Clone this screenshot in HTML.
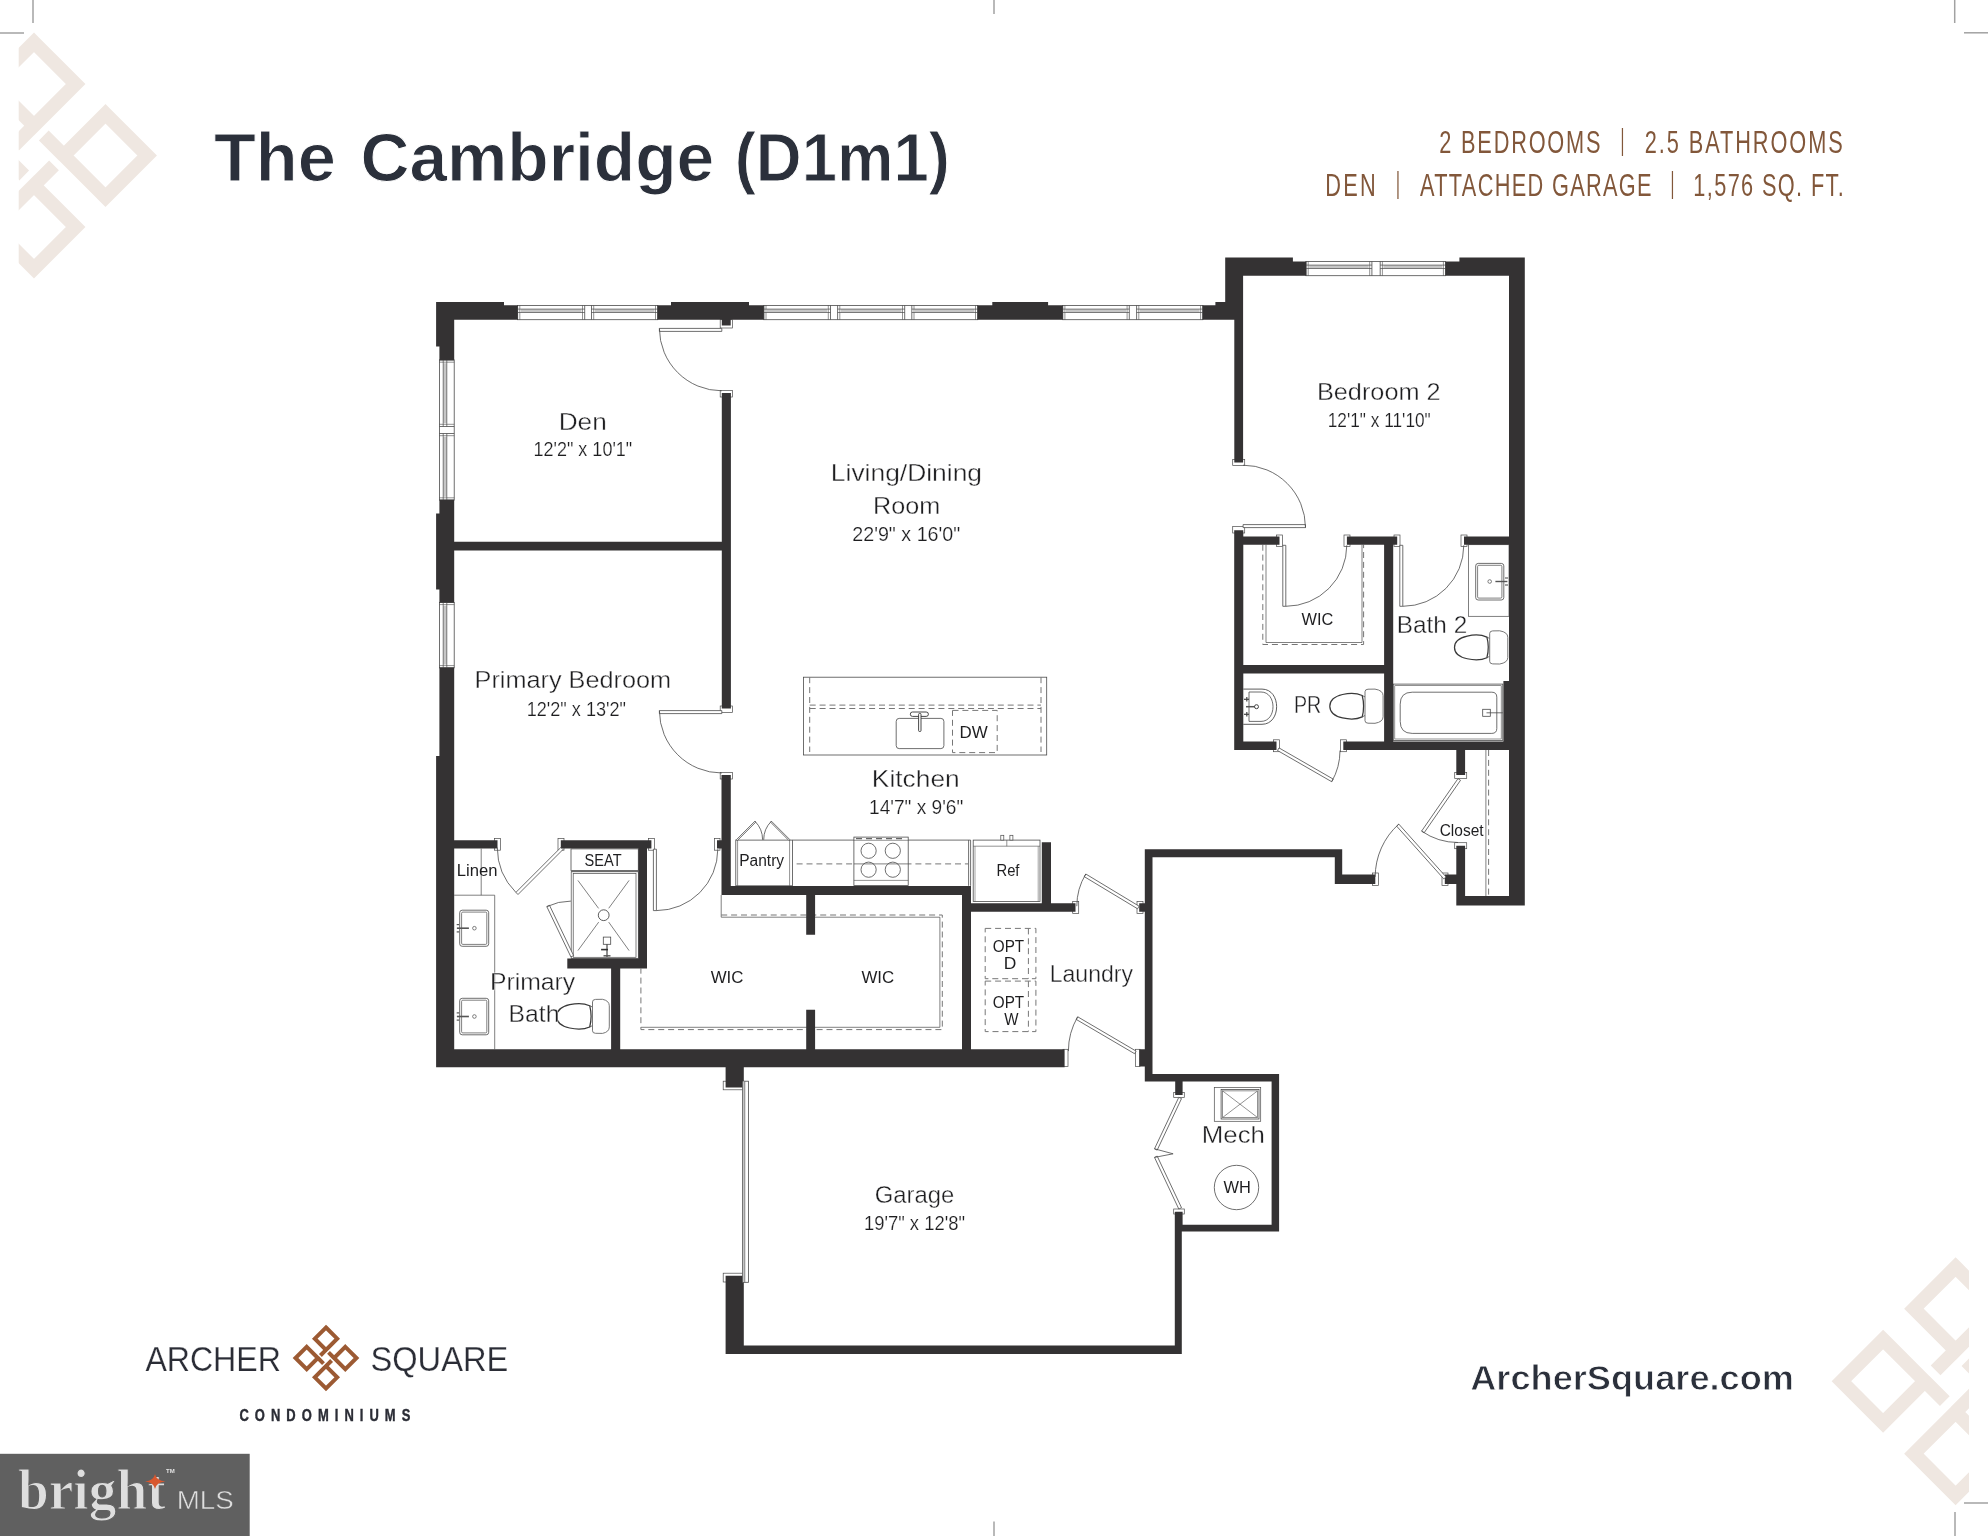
<!DOCTYPE html>
<html lang="en"><head><meta charset="utf-8"><title>The Cambridge (D1m1) - Archer Square Condominiums</title>
<style>
html,body{margin:0;padding:0;background:#fff;}
body{width:1988px;height:1536px;overflow:hidden;}
svg{display:block;will-change:transform;}
svg text{font-family:"Liberation Sans",sans-serif;}
</style></head><body>
<svg width="1988" height="1536" viewBox="0 0 1988 1536">
<rect width="1988" height="1536" fill="#ffffff"/>
<defs><clipPath id="cl"><rect x="18.7" y="0" width="400" height="400"/></clipPath><clipPath id="cr"><rect x="1600" y="1200" width="369" height="336"/></clipPath></defs>
<g clip-path="url(#cl)"><path d="M34.00,42.30 L75.70,84.00 L34.00,125.70 L-7.70,84.00 Z M34.00,125.70 l-20.00,20.00 M-37.50,113.80 L4.20,155.50 L-37.50,197.20 L-79.20,155.50 Z M4.20,155.50 l20.00,20.00 M34.00,185.30 L75.70,227.00 L34.00,268.70 L-7.70,227.00 Z M34.00,185.30 l20.00,-20.00 M105.50,113.80 L147.20,155.50 L105.50,197.20 L63.80,155.50 Z M63.80,155.50 l-20.00,-20.00 " fill="none" stroke="#efe7e1" stroke-width="13.8" stroke-linejoin="miter" stroke-linecap="butt"/></g>
<g clip-path="url(#cr)"><path d="M1955.60,1267.00 L1997.30,1308.70 L1955.60,1350.40 L1913.90,1308.70 Z M1955.60,1350.40 l-20.00,20.00 M1883.10,1339.50 L1924.80,1381.20 L1883.10,1422.90 L1841.40,1381.20 Z M1924.80,1381.20 l20.00,20.00 M1955.60,1412.00 L1997.30,1453.70 L1955.60,1495.40 L1913.90,1453.70 Z M1955.60,1412.00 l20.00,-20.00 M2028.10,1339.50 L2069.80,1381.20 L2028.10,1422.90 L1986.40,1381.20 Z M1986.40,1381.20 l-20.00,-20.00 " fill="none" stroke="#efe7e1" stroke-width="13.8" stroke-linejoin="miter" stroke-linecap="butt"/></g>
<line x1="33.0" y1="0.0" x2="33.0" y2="23.0" stroke="#a2a2a2" stroke-width="1.5"/>
<line x1="0.0" y1="33.0" x2="24.0" y2="33.0" stroke="#a2a2a2" stroke-width="1.5"/>
<line x1="1954.7" y1="0.0" x2="1954.7" y2="23.0" stroke="#a2a2a2" stroke-width="1.5"/>
<line x1="1964.0" y1="32.8" x2="1988.0" y2="32.8" stroke="#a2a2a2" stroke-width="1.5"/>
<line x1="1955.0" y1="1512.0" x2="1955.0" y2="1536.0" stroke="#a2a2a2" stroke-width="1.5"/>
<line x1="1964.0" y1="1503.0" x2="1988.0" y2="1503.0" stroke="#a2a2a2" stroke-width="1.5"/>
<line x1="994.0" y1="0.0" x2="994.0" y2="14.0" stroke="#a2a2a2" stroke-width="1.5"/>
<line x1="994.0" y1="1521.5" x2="994.0" y2="1536.0" stroke="#a2a2a2" stroke-width="1.5"/>
<text x="214.00" y="181.0" font-size="68" textLength="121.83" lengthAdjust="spacingAndGlyphs" fill="#2b303b" style="font-family:&quot;Liberation Sans&quot;,sans-serif;font-weight:bold;" stroke="#fff" stroke-width="1.0" >The</text>
<text x="360.51" y="181.0" font-size="68" textLength="353.80" lengthAdjust="spacingAndGlyphs" fill="#2b303b" style="font-family:&quot;Liberation Sans&quot;,sans-serif;font-weight:bold;" stroke="#fff" stroke-width="1.0" >Cambridge</text>
<text x="734.70" y="181.0" font-size="68" textLength="215.27" lengthAdjust="spacingAndGlyphs" fill="#2b303b" style="font-family:&quot;Liberation Sans&quot;,sans-serif;font-weight:bold;" stroke="#fff" stroke-width="1.0" >(D1m1)</text>
<text transform="translate(1439.32,152.7) scale(0.68,1)" font-size="32" letter-spacing="2.631" fill="#82573a" style="font-family:&quot;Liberation Sans&quot;,sans-serif;" >2 BEDROOMS</text>
<text transform="translate(1644.72,152.7) scale(0.68,1)" font-size="32" letter-spacing="2.840" fill="#82573a" style="font-family:&quot;Liberation Sans&quot;,sans-serif;" >2.5 BATHROOMS</text>
<text transform="translate(1325.34,196.3) scale(0.68,1)" font-size="32" letter-spacing="3.273" fill="#82573a" style="font-family:&quot;Liberation Sans&quot;,sans-serif;" >DEN</text>
<text transform="translate(1420.00,196.3) scale(0.68,1)" font-size="32" letter-spacing="1.935" fill="#82573a" style="font-family:&quot;Liberation Sans&quot;,sans-serif;" >ATTACHED GARAGE</text>
<text transform="translate(1693.34,196.3) scale(0.68,1)" font-size="32" letter-spacing="1.995" fill="#82573a" style="font-family:&quot;Liberation Sans&quot;,sans-serif;" >1,576 SQ. FT.</text>
<text x="1620.60" y="149.7" font-size="30" textLength="3.90" lengthAdjust="spacingAndGlyphs" fill="#82573a" style="font-family:&quot;Liberation Sans&quot;,sans-serif;" >|</text>
<text x="1395.90" y="193.3" font-size="30" textLength="3.90" lengthAdjust="spacingAndGlyphs" fill="#82573a" style="font-family:&quot;Liberation Sans&quot;,sans-serif;" >|</text>
<text x="1670.50" y="193.3" font-size="30" textLength="3.90" lengthAdjust="spacingAndGlyphs" fill="#82573a" style="font-family:&quot;Liberation Sans&quot;,sans-serif;" >|</text>
<text x="145.40" y="1371.3" font-size="35.3" textLength="135.45" lengthAdjust="spacingAndGlyphs" fill="#2b2d36" style="font-family:&quot;Liberation Sans&quot;,sans-serif;" stroke="#fff" stroke-width="0.25" >ARCHER</text>
<text x="370.48" y="1371.3" font-size="35.3" textLength="137.73" lengthAdjust="spacingAndGlyphs" fill="#2b2d36" style="font-family:&quot;Liberation Sans&quot;,sans-serif;" stroke="#fff" stroke-width="0.25" >SQUARE</text>
<text transform="translate(239.40,1421.0) scale(0.8,1)" font-size="16.2" letter-spacing="7.571" fill="#2b2d36" style="font-family:&quot;Liberation Sans&quot;,sans-serif;font-weight:bold;" stroke="#2b2d36" stroke-width="0.4">CONDOMINIUMS</text>
<path d="M326.00,1327.50 L337.20,1338.70 L326.00,1349.90 L314.80,1338.70 Z M326.00,1349.90 l-5.60,5.60 M306.70,1346.80 L317.90,1358.00 L306.70,1369.20 L295.50,1358.00 Z M317.90,1358.00 l5.60,5.60 M326.00,1366.10 L337.20,1377.30 L326.00,1388.50 L314.80,1377.30 Z M326.00,1366.10 l5.60,-5.60 M345.30,1346.80 L356.50,1358.00 L345.30,1369.20 L334.10,1358.00 Z M334.10,1358.00 l-5.60,-5.60 " fill="none" stroke="#9c5a33" stroke-width="4" stroke-linejoin="miter" stroke-linecap="butt"/>
<text x="1470.20" y="1389.7" font-size="35" textLength="323.79" lengthAdjust="spacingAndGlyphs" fill="#2b303b" style="font-family:&quot;Liberation Sans&quot;,sans-serif;font-weight:bold;" stroke="#fff" stroke-width="0.8" >ArcherSquare.com</text>
<rect x="0.0" y="1453.8" width="249.7" height="82.2" fill="#606060"/>
<text x="18.00" y="1508.5" font-size="56" textLength="147.65" lengthAdjust="spacingAndGlyphs" fill="#dedede" style="font-family:&quot;Liberation Serif&quot;,serif;font-weight:bold;" stroke="#606060" stroke-width="1.1" >bright</text>
<text x="176.71" y="1508.5" font-size="26.5" textLength="57.00" lengthAdjust="spacingAndGlyphs" fill="#dedede" style="font-family:&quot;Liberation Sans&quot;,sans-serif;" stroke="#606060" stroke-width="0.5" >MLS</text>
<text x="166.00" y="1473.0" font-size="5" textLength="8.70" lengthAdjust="spacingAndGlyphs" fill="#e2e2e2" style="font-family:&quot;Liberation Sans&quot;,sans-serif;font-weight:bold;" >TM</text>
<path d="M155,1474 Q156.2,1480.6 165.5,1481.6 Q156.2,1482.6 155,1489 Q153.8,1482.6 145,1481.6 Q153.8,1480.6 155,1474 Z" fill="#d8572f"/>
<rect x="517.6" y="305.4" width="140.1" height="14.3" fill="#fff" stroke="#4a4a4a" stroke-width="0.8"/>
<line x1="517.6" y1="305.4" x2="517.6" y2="319.7" stroke="#4a4a4a" stroke-width="0.8"/>
<line x1="584.7" y1="305.4" x2="584.7" y2="319.7" stroke="#4a4a4a" stroke-width="0.8"/>
<line x1="519.8" y1="305.4" x2="519.8" y2="319.7" stroke="#4a4a4a" stroke-width="0.6"/>
<line x1="582.5" y1="305.4" x2="582.5" y2="319.7" stroke="#4a4a4a" stroke-width="0.6"/>
<rect x="520.8" y="309.1" width="60.7" height="3.4" fill="#c6c6c6"/>
<line x1="517.6" y1="309.1" x2="584.7" y2="309.1" stroke="#4a4a4a" stroke-width="0.7"/>
<line x1="517.6" y1="312.5" x2="584.7" y2="312.5" stroke="#4a4a4a" stroke-width="0.7"/>
<line x1="591.5" y1="305.4" x2="591.5" y2="319.7" stroke="#4a4a4a" stroke-width="0.8"/>
<line x1="657.7" y1="305.4" x2="657.7" y2="319.7" stroke="#4a4a4a" stroke-width="0.8"/>
<line x1="593.7" y1="305.4" x2="593.7" y2="319.7" stroke="#4a4a4a" stroke-width="0.6"/>
<line x1="655.5" y1="305.4" x2="655.5" y2="319.7" stroke="#4a4a4a" stroke-width="0.6"/>
<rect x="594.7" y="309.1" width="59.8" height="3.4" fill="#c6c6c6"/>
<line x1="591.5" y1="309.1" x2="657.7" y2="309.1" stroke="#4a4a4a" stroke-width="0.7"/>
<line x1="591.5" y1="312.5" x2="657.7" y2="312.5" stroke="#4a4a4a" stroke-width="0.7"/>
<rect x="763.8" y="305.4" width="213.9" height="14.3" fill="#fff" stroke="#4a4a4a" stroke-width="0.8"/>
<line x1="763.8" y1="305.4" x2="763.8" y2="319.7" stroke="#4a4a4a" stroke-width="0.8"/>
<line x1="830.5" y1="305.4" x2="830.5" y2="319.7" stroke="#4a4a4a" stroke-width="0.8"/>
<line x1="766.0" y1="305.4" x2="766.0" y2="319.7" stroke="#4a4a4a" stroke-width="0.6"/>
<line x1="828.3" y1="305.4" x2="828.3" y2="319.7" stroke="#4a4a4a" stroke-width="0.6"/>
<rect x="767.0" y="309.1" width="60.3" height="3.4" fill="#c6c6c6"/>
<line x1="763.8" y1="309.1" x2="830.5" y2="309.1" stroke="#4a4a4a" stroke-width="0.7"/>
<line x1="763.8" y1="312.5" x2="830.5" y2="312.5" stroke="#4a4a4a" stroke-width="0.7"/>
<line x1="837.6" y1="305.4" x2="837.6" y2="319.7" stroke="#4a4a4a" stroke-width="0.8"/>
<line x1="904.7" y1="305.4" x2="904.7" y2="319.7" stroke="#4a4a4a" stroke-width="0.8"/>
<line x1="839.8" y1="305.4" x2="839.8" y2="319.7" stroke="#4a4a4a" stroke-width="0.6"/>
<line x1="902.5" y1="305.4" x2="902.5" y2="319.7" stroke="#4a4a4a" stroke-width="0.6"/>
<rect x="840.8" y="309.1" width="60.7" height="3.4" fill="#c6c6c6"/>
<line x1="837.6" y1="309.1" x2="904.7" y2="309.1" stroke="#4a4a4a" stroke-width="0.7"/>
<line x1="837.6" y1="312.5" x2="904.7" y2="312.5" stroke="#4a4a4a" stroke-width="0.7"/>
<line x1="911.8" y1="305.4" x2="911.8" y2="319.7" stroke="#4a4a4a" stroke-width="0.8"/>
<line x1="977.7" y1="305.4" x2="977.7" y2="319.7" stroke="#4a4a4a" stroke-width="0.8"/>
<line x1="914.0" y1="305.4" x2="914.0" y2="319.7" stroke="#4a4a4a" stroke-width="0.6"/>
<line x1="975.5" y1="305.4" x2="975.5" y2="319.7" stroke="#4a4a4a" stroke-width="0.6"/>
<rect x="915.0" y="309.1" width="59.5" height="3.4" fill="#c6c6c6"/>
<line x1="911.8" y1="309.1" x2="977.7" y2="309.1" stroke="#4a4a4a" stroke-width="0.7"/>
<line x1="911.8" y1="312.5" x2="977.7" y2="312.5" stroke="#4a4a4a" stroke-width="0.7"/>
<rect x="1062.7" y="305.4" width="140.1" height="14.3" fill="#fff" stroke="#4a4a4a" stroke-width="0.8"/>
<line x1="1062.7" y1="305.4" x2="1062.7" y2="319.7" stroke="#4a4a4a" stroke-width="0.8"/>
<line x1="1129.3" y1="305.4" x2="1129.3" y2="319.7" stroke="#4a4a4a" stroke-width="0.8"/>
<line x1="1064.9" y1="305.4" x2="1064.9" y2="319.7" stroke="#4a4a4a" stroke-width="0.6"/>
<line x1="1127.1" y1="305.4" x2="1127.1" y2="319.7" stroke="#4a4a4a" stroke-width="0.6"/>
<rect x="1065.9" y="309.1" width="60.2" height="3.4" fill="#c6c6c6"/>
<line x1="1062.7" y1="309.1" x2="1129.3" y2="309.1" stroke="#4a4a4a" stroke-width="0.7"/>
<line x1="1062.7" y1="312.5" x2="1129.3" y2="312.5" stroke="#4a4a4a" stroke-width="0.7"/>
<line x1="1136.6" y1="305.4" x2="1136.6" y2="319.7" stroke="#4a4a4a" stroke-width="0.8"/>
<line x1="1202.8" y1="305.4" x2="1202.8" y2="319.7" stroke="#4a4a4a" stroke-width="0.8"/>
<line x1="1138.8" y1="305.4" x2="1138.8" y2="319.7" stroke="#4a4a4a" stroke-width="0.6"/>
<line x1="1200.6" y1="305.4" x2="1200.6" y2="319.7" stroke="#4a4a4a" stroke-width="0.6"/>
<rect x="1139.8" y="309.1" width="59.8" height="3.4" fill="#c6c6c6"/>
<line x1="1136.6" y1="309.1" x2="1202.8" y2="309.1" stroke="#4a4a4a" stroke-width="0.7"/>
<line x1="1136.6" y1="312.5" x2="1202.8" y2="312.5" stroke="#4a4a4a" stroke-width="0.7"/>
<rect x="1306.0" y="261.4" width="139.6" height="14.3" fill="#fff" stroke="#4a4a4a" stroke-width="0.8"/>
<line x1="1306.0" y1="261.4" x2="1306.0" y2="275.7" stroke="#4a4a4a" stroke-width="0.8"/>
<line x1="1371.9" y1="261.4" x2="1371.9" y2="275.7" stroke="#4a4a4a" stroke-width="0.8"/>
<line x1="1308.2" y1="261.4" x2="1308.2" y2="275.7" stroke="#4a4a4a" stroke-width="0.6"/>
<line x1="1369.7" y1="261.4" x2="1369.7" y2="275.7" stroke="#4a4a4a" stroke-width="0.6"/>
<rect x="1309.2" y="265.1" width="59.5" height="3.4" fill="#c6c6c6"/>
<line x1="1306.0" y1="265.1" x2="1371.9" y2="265.1" stroke="#4a4a4a" stroke-width="0.7"/>
<line x1="1306.0" y1="268.5" x2="1371.9" y2="268.5" stroke="#4a4a4a" stroke-width="0.7"/>
<line x1="1380.2" y1="261.4" x2="1380.2" y2="275.7" stroke="#4a4a4a" stroke-width="0.8"/>
<line x1="1445.6" y1="261.4" x2="1445.6" y2="275.7" stroke="#4a4a4a" stroke-width="0.8"/>
<line x1="1382.4" y1="261.4" x2="1382.4" y2="275.7" stroke="#4a4a4a" stroke-width="0.6"/>
<line x1="1443.4" y1="261.4" x2="1443.4" y2="275.7" stroke="#4a4a4a" stroke-width="0.6"/>
<rect x="1383.4" y="265.1" width="59.0" height="3.4" fill="#c6c6c6"/>
<line x1="1380.2" y1="265.1" x2="1445.6" y2="265.1" stroke="#4a4a4a" stroke-width="0.7"/>
<line x1="1380.2" y1="268.5" x2="1445.6" y2="268.5" stroke="#4a4a4a" stroke-width="0.7"/>
<rect x="439.4" y="360.0" width="14.8" height="140.0" fill="#fff" stroke="#4a4a4a" stroke-width="0.8"/>
<line x1="439.4" y1="360.0" x2="454.2" y2="360.0" stroke="#4a4a4a" stroke-width="0.8"/>
<line x1="439.4" y1="426.5" x2="454.2" y2="426.5" stroke="#4a4a4a" stroke-width="0.8"/>
<line x1="439.4" y1="362.2" x2="454.2" y2="362.2" stroke="#4a4a4a" stroke-width="0.6"/>
<line x1="439.4" y1="424.3" x2="454.2" y2="424.3" stroke="#4a4a4a" stroke-width="0.6"/>
<rect x="443.2" y="363.2" width="3.6" height="60.1" fill="#c6c6c6"/>
<line x1="443.2" y1="360.0" x2="443.2" y2="426.5" stroke="#4a4a4a" stroke-width="0.7"/>
<line x1="446.8" y1="360.0" x2="446.8" y2="426.5" stroke="#4a4a4a" stroke-width="0.7"/>
<line x1="439.4" y1="433.5" x2="454.2" y2="433.5" stroke="#4a4a4a" stroke-width="0.8"/>
<line x1="439.4" y1="500.0" x2="454.2" y2="500.0" stroke="#4a4a4a" stroke-width="0.8"/>
<line x1="439.4" y1="435.7" x2="454.2" y2="435.7" stroke="#4a4a4a" stroke-width="0.6"/>
<line x1="439.4" y1="497.8" x2="454.2" y2="497.8" stroke="#4a4a4a" stroke-width="0.6"/>
<rect x="443.2" y="436.7" width="3.6" height="60.1" fill="#c6c6c6"/>
<line x1="443.2" y1="433.5" x2="443.2" y2="500.0" stroke="#4a4a4a" stroke-width="0.7"/>
<line x1="446.8" y1="433.5" x2="446.8" y2="500.0" stroke="#4a4a4a" stroke-width="0.7"/>
<rect x="439.4" y="602.4" width="14.8" height="65.4" fill="#fff" stroke="#4a4a4a" stroke-width="0.8"/>
<line x1="439.4" y1="602.4" x2="454.2" y2="602.4" stroke="#4a4a4a" stroke-width="0.8"/>
<line x1="439.4" y1="667.8" x2="454.2" y2="667.8" stroke="#4a4a4a" stroke-width="0.8"/>
<line x1="439.4" y1="604.6" x2="454.2" y2="604.6" stroke="#4a4a4a" stroke-width="0.6"/>
<line x1="439.4" y1="665.6" x2="454.2" y2="665.6" stroke="#4a4a4a" stroke-width="0.6"/>
<rect x="443.2" y="605.6" width="3.6" height="59.0" fill="#c6c6c6"/>
<line x1="443.2" y1="602.4" x2="443.2" y2="667.8" stroke="#4a4a4a" stroke-width="0.7"/>
<line x1="446.8" y1="602.4" x2="446.8" y2="667.8" stroke="#4a4a4a" stroke-width="0.7"/>
<rect x="720.2" y="319.7" width="12.2" height="8.3" fill="#fff" stroke="#4a4a4a" stroke-width="0.7"/>
<rect x="720.2" y="390.5" width="12.2" height="6.5" fill="#fff" stroke="#4a4a4a" stroke-width="0.7"/>
<rect x="720.2" y="706.0" width="12.2" height="6.5" fill="#fff" stroke="#4a4a4a" stroke-width="0.7"/>
<rect x="720.2" y="772.5" width="12.2" height="6.5" fill="#fff" stroke="#4a4a4a" stroke-width="0.7"/>
<rect x="1232.7" y="459.5" width="12.0" height="6.0" fill="#fff" stroke="#4a4a4a" stroke-width="0.7"/>
<rect x="1232.7" y="526.5" width="12.0" height="6.5" fill="#fff" stroke="#4a4a4a" stroke-width="0.7"/>
<rect x="1276.5" y="535.0" width="6.0" height="11.5" fill="#fff" stroke="#4a4a4a" stroke-width="0.7"/>
<rect x="1344.0" y="535.0" width="6.0" height="11.5" fill="#fff" stroke="#4a4a4a" stroke-width="0.7"/>
<rect x="1394.0" y="535.0" width="6.0" height="11.5" fill="#fff" stroke="#4a4a4a" stroke-width="0.7"/>
<rect x="1461.0" y="535.0" width="6.0" height="11.5" fill="#fff" stroke="#4a4a4a" stroke-width="0.7"/>
<rect x="1273.5" y="739.8" width="6.0" height="11.9" fill="#fff" stroke="#4a4a4a" stroke-width="0.7"/>
<rect x="1340.5" y="739.8" width="6.0" height="11.9" fill="#fff" stroke="#4a4a4a" stroke-width="0.7"/>
<rect x="1454.7" y="772.5" width="12.0" height="6.0" fill="#fff" stroke="#4a4a4a" stroke-width="0.7"/>
<rect x="1454.7" y="842.7" width="12.0" height="6.0" fill="#fff" stroke="#4a4a4a" stroke-width="0.7"/>
<rect x="1372.5" y="873.0" width="6.0" height="12.5" fill="#fff" stroke="#4a4a4a" stroke-width="0.7"/>
<rect x="1442.0" y="873.0" width="6.0" height="12.5" fill="#fff" stroke="#4a4a4a" stroke-width="0.7"/>
<rect x="1072.7" y="901.6" width="6.0" height="11.8" fill="#fff" stroke="#4a4a4a" stroke-width="0.7"/>
<rect x="1137.0" y="901.6" width="6.0" height="11.8" fill="#fff" stroke="#4a4a4a" stroke-width="0.7"/>
<rect x="1063.0" y="1049.3" width="5.0" height="17.3" fill="#fff" stroke="#4a4a4a" stroke-width="0.7"/>
<rect x="1135.5" y="1049.3" width="4.5" height="17.3" fill="#fff" stroke="#4a4a4a" stroke-width="0.7"/>
<rect x="494.5" y="838.6" width="6.0" height="11.6" fill="#fff" stroke="#4a4a4a" stroke-width="0.7"/>
<rect x="558.0" y="838.6" width="6.0" height="11.6" fill="#fff" stroke="#4a4a4a" stroke-width="0.7"/>
<rect x="648.5" y="838.6" width="6.0" height="11.6" fill="#fff" stroke="#4a4a4a" stroke-width="0.7"/>
<rect x="714.5" y="838.6" width="5.5" height="11.6" fill="#fff" stroke="#4a4a4a" stroke-width="0.7"/>
<rect x="1173.7" y="1092.5" width="10.6" height="5.0" fill="#fff" stroke="#4a4a4a" stroke-width="0.7"/>
<rect x="1173.7" y="1209.0" width="10.6" height="5.0" fill="#fff" stroke="#4a4a4a" stroke-width="0.7"/>
<rect x="723.2" y="1081.2" width="20.6" height="8.6" fill="#fff" stroke="#4a4a4a" stroke-width="0.7"/>
<rect x="723.2" y="1273.2" width="20.6" height="8.8" fill="#fff" stroke="#4a4a4a" stroke-width="0.7"/>
<rect x="803.6" y="677.2" width="243.1" height="77.8" fill="none" stroke="#4a4a4a" stroke-width="0.8"/>
<line x1="809.7" y1="677.2" x2="809.7" y2="752.0" stroke="#777" stroke-width="1.0" stroke-dasharray="6 3.9"/>
<line x1="1041.0" y1="677.2" x2="1041.0" y2="752.0" stroke="#777" stroke-width="1.0" stroke-dasharray="6 3.9"/>
<line x1="809.7" y1="705.1" x2="1041.0" y2="705.1" stroke="#777" stroke-width="1.0" stroke-dasharray="6 3.9"/>
<line x1="809.7" y1="708.5" x2="1041.0" y2="708.5" stroke="#777" stroke-width="1.0" stroke-dasharray="6 3.9"/>
<rect x="896.2" y="718.4" width="47.7" height="30.2" fill="#fff" stroke="#4a4a4a" stroke-width="0.8" rx="3"/>
<rect x="910.3" y="712.0" width="18.1" height="4.4" fill="#fff" stroke="#333" stroke-width="0.9" rx="2.2"/>
<rect x="918.6" y="713.4" width="2.4" height="18.1" fill="#fff" stroke="#333" stroke-width="0.9" rx="1"/>
<rect x="952.5" y="710.4" width="44.7" height="42.2" fill="none" stroke="#777" stroke-width="1.0" stroke-dasharray="6 3.9"/>
<rect x="735.8" y="840.1" width="56.8" height="45.7" fill="#fff" stroke="#4a4a4a" stroke-width="0.8"/>
<line x1="737.6" y1="840.1" x2="737.6" y2="885.8" stroke="#4a4a4a" stroke-width="0.6"/>
<line x1="789.6" y1="840.1" x2="789.6" y2="885.8" stroke="#4a4a4a" stroke-width="0.6"/>
<path d="M736.3,839.8 L754.9,821.2 L755.8,822.1 L737.2,840.7 Z" fill="#fff" stroke="#4a4a4a" stroke-width="0.8" />
<path d="M754.9,821.2 A26.3,26.3 0 0 1 762.6,839.8" fill="none" stroke="#4a4a4a" stroke-width="0.8" />
<path d="M790.0,839.8 L771.4,821.2 L770.5,822.1 L789.1,840.7 Z" fill="#fff" stroke="#4a4a4a" stroke-width="0.8" />
<path d="M771.4,821.2 A26.3,26.3 0 0 0 763.7,839.8" fill="none" stroke="#4a4a4a" stroke-width="0.8" />
<line x1="792.6" y1="840.1" x2="970.6" y2="840.1" stroke="#4a4a4a" stroke-width="0.8"/>
<line x1="968.6" y1="840.1" x2="968.6" y2="885.8" stroke="#4a4a4a" stroke-width="0.8"/>
<line x1="970.6" y1="840.1" x2="970.6" y2="885.8" stroke="#4a4a4a" stroke-width="0.8"/>
<line x1="796.6" y1="863.9" x2="968.6" y2="863.9" stroke="#777" stroke-width="1.0" stroke-dasharray="6 3.9"/>
<rect x="853.9" y="837.1" width="54.3" height="48.5" fill="#fff" stroke="#4a4a4a" stroke-width="0.8"/>
<line x1="853.9" y1="840.3" x2="908.2" y2="840.3" stroke="#4a4a4a" stroke-width="0.6"/>
<line x1="853.9" y1="880.4" x2="908.2" y2="880.4" stroke="#4a4a4a" stroke-width="0.6"/>
<line x1="856.0" y1="838.6" x2="906.0" y2="838.6" stroke="#666" stroke-width="1.2" stroke-dasharray="6 4"/>
<circle cx="868.6" cy="850.8" r="7.6" fill="#fff" stroke="#4a4a4a" stroke-width="0.8"/>
<circle cx="892.8" cy="850.8" r="7.6" fill="#fff" stroke="#4a4a4a" stroke-width="0.8"/>
<circle cx="868.6" cy="869.7" r="7.6" fill="#fff" stroke="#4a4a4a" stroke-width="0.8"/>
<circle cx="892.8" cy="869.7" r="7.6" fill="#fff" stroke="#4a4a4a" stroke-width="0.8"/>
<line x1="853.9" y1="863.9" x2="908.2" y2="863.9" stroke="#4a4a4a" stroke-width="0.7"/>
<rect x="973.2" y="840.1" width="66.8" height="61.4" fill="#fff" stroke="#4a4a4a" stroke-width="0.8"/>
<line x1="973.2" y1="846.2" x2="1040.0" y2="846.2" stroke="#4a4a4a" stroke-width="0.6"/>
<line x1="975.0" y1="846.2" x2="975.0" y2="901.5" stroke="#4a4a4a" stroke-width="0.5"/>
<line x1="1038.2" y1="846.2" x2="1038.2" y2="901.5" stroke="#4a4a4a" stroke-width="0.5"/>
<rect x="1000.8" y="835.3" width="3.0" height="4.8" fill="#fff" stroke="#4a4a4a" stroke-width="0.7"/>
<rect x="1009.9" y="835.3" width="3.0" height="4.8" fill="#fff" stroke="#4a4a4a" stroke-width="0.7"/>
<line x1="1006.8" y1="840.1" x2="1006.8" y2="846.2" stroke="#4a4a4a" stroke-width="0.6"/>
<path d="M721.2,895 L721.2,917.2 L939.9,917.2 L939.9,1027.3 L640.9,1027.3" fill="none" stroke="#4a4a4a" stroke-width="0.7" />
<path d="M721.2,915 L942.3,915 L942.3,1029.6 L640.9,1029.6 L640.9,968.5" fill="none" stroke="#777" stroke-width="1.0" stroke-dasharray="6 3.9"/>
<path d="M1266,544.7 L1266,642.5 L1362,642.5 L1362,544.7" fill="none" stroke="#4a4a4a" stroke-width="0.7" />
<path d="M1262.8,544.7 L1262.8,644.5 L1363.6,644.5 L1363.6,544.7" fill="none" stroke="#777" stroke-width="1.0" stroke-dasharray="6 3.9"/>
<line x1="1485.9" y1="750.0" x2="1485.9" y2="896.1" stroke="#4a4a4a" stroke-width="0.7"/>
<line x1="1488.6" y1="750.0" x2="1488.6" y2="896.1" stroke="#777" stroke-width="1.0" stroke-dasharray="6 3.9"/>
<rect x="985.2" y="928.4" width="50.7" height="50.3" fill="none" stroke="#777" stroke-width="1.0" stroke-dasharray="6 3.9"/>
<line x1="1028.4" y1="928.4" x2="1028.4" y2="978.7" stroke="#777" stroke-width="1.0" stroke-dasharray="6 3.9"/>
<rect x="985.2" y="981.1" width="50.7" height="50.5" fill="none" stroke="#777" stroke-width="1.0" stroke-dasharray="6 3.9"/>
<line x1="1028.4" y1="981.1" x2="1028.4" y2="1031.6" stroke="#777" stroke-width="1.0" stroke-dasharray="6 3.9"/>
<line x1="481.2" y1="848.6" x2="481.2" y2="895.2" stroke="#4a4a4a" stroke-width="0.7"/>
<path d="M454.2,895.2 L494.7,895.2 L494.7,1049.3" fill="none" stroke="#4a4a4a" stroke-width="0.7" />
<rect x="459.7" y="910.2" width="29.0" height="36.1" fill="#fff" stroke="#4a4a4a" stroke-width="0.8" rx="2.5"/>
<rect x="461.6" y="912.1" width="25.2" height="32.3" fill="none" stroke="#4a4a4a" stroke-width="0.7" rx="1.2"/>
<circle cx="474.4" cy="928.2" r="1.8" fill="#fff" stroke="#4a4a4a" stroke-width="0.7"/>
<line x1="456.9" y1="928.2" x2="468.9" y2="928.2" stroke="#555" stroke-width="1.6"/>
<line x1="456.7" y1="924.6" x2="459.2" y2="924.6" stroke="#555" stroke-width="1.2"/>
<line x1="456.7" y1="931.9" x2="459.2" y2="931.9" stroke="#555" stroke-width="1.2"/>
<rect x="459.7" y="998.3" width="29.0" height="36.5" fill="#fff" stroke="#4a4a4a" stroke-width="0.8" rx="2.5"/>
<rect x="461.6" y="1000.2" width="25.2" height="32.7" fill="none" stroke="#4a4a4a" stroke-width="0.7" rx="1.2"/>
<circle cx="474.4" cy="1016.5" r="1.8" fill="#fff" stroke="#4a4a4a" stroke-width="0.7"/>
<line x1="456.9" y1="1016.5" x2="468.9" y2="1016.5" stroke="#555" stroke-width="1.6"/>
<line x1="456.7" y1="1012.9" x2="459.2" y2="1012.9" stroke="#555" stroke-width="1.2"/>
<line x1="456.7" y1="1020.1" x2="459.2" y2="1020.1" stroke="#555" stroke-width="1.2"/>
<path d="M589.7,1005.7 C580.3,1001.5 556.7,1003.7 556.7,1016.4 C556.7,1029.0 580.3,1031.2 589.7,1027.0 Q592.5,1016.4 589.7,1005.7 Z" fill="#fff" stroke="#3a3a3a" stroke-width="1.25" />
<line x1="589.7" y1="1005.7" x2="592.5" y2="1007.1" stroke="#4a4a4a" stroke-width="0.8"/>
<line x1="589.7" y1="1027.0" x2="592.5" y2="1025.6" stroke="#4a4a4a" stroke-width="0.8"/>
<path d="M592.5,1001.9 Q592.5,999.5 595.5,999.4 L602.5,999.3 Q609.3,1000.7 609.3,1005.8 L609.3,1026.9 Q609.3,1032.0 602.5,1033.4 L595.5,1033.3 Q592.5,1033.2 592.5,1030.8 Z" fill="#fff" stroke="#666" stroke-width="0.9" />
<rect x="571.0" y="848.9" width="67.3" height="21.5" fill="#fff" stroke="#4a4a4a" stroke-width="0.8"/>
<line x1="571.0" y1="871.6" x2="638.3" y2="871.6" stroke="#4a4a4a" stroke-width="0.8"/>
<rect x="571.2" y="871.8" width="67.1" height="86.7" fill="#fff" stroke="#4a4a4a" stroke-width="0.7"/>
<rect x="573.2" y="873.5" width="62.8" height="83.8" fill="none" stroke="#4a4a4a" stroke-width="0.7"/>
<line x1="577.9" y1="880.4" x2="598.6" y2="908.4" stroke="#4a4a4a" stroke-width="0.7"/>
<line x1="629.1" y1="880.4" x2="608.7" y2="908.3" stroke="#4a4a4a" stroke-width="0.7"/>
<line x1="577.9" y1="950.6" x2="598.7" y2="922.1" stroke="#4a4a4a" stroke-width="0.7"/>
<line x1="629.1" y1="950.6" x2="608.7" y2="922.1" stroke="#4a4a4a" stroke-width="0.7"/>
<circle cx="603.7" cy="915.2" r="5.4" fill="#fff" stroke="#4a4a4a" stroke-width="0.9"/>
<rect x="603.3" y="937.1" width="7.4" height="7.2" fill="#fff" stroke="#4a4a4a" stroke-width="0.8"/>
<line x1="607.0" y1="944.3" x2="607.0" y2="957.0" stroke="#444" stroke-width="1.2"/>
<line x1="601.1" y1="949.6" x2="608.0" y2="949.6" stroke="#333" stroke-width="1.6"/>
<line x1="603.5" y1="955.8" x2="610.5" y2="955.8" stroke="#555" stroke-width="1.4"/>
<rect x="1468.6" y="544.7" width="40.4" height="71.6" fill="#fff" stroke="#4a4a4a" stroke-width="0.7"/>
<rect x="1475.7" y="563.4" width="28.1" height="36.6" fill="#fff" stroke="#4a4a4a" stroke-width="0.8" rx="2.5"/>
<rect x="1477.6" y="565.3" width="24.3" height="32.8" fill="none" stroke="#4a4a4a" stroke-width="0.7" rx="1.2"/>
<circle cx="1489.7" cy="581.5" r="1.8" fill="#fff" stroke="#4a4a4a" stroke-width="0.7"/>
<line x1="1495.4" y1="581.5" x2="1507.4" y2="581.5" stroke="#555" stroke-width="1.4"/>
<line x1="1505.0" y1="578.0" x2="1508.0" y2="578.0" stroke="#555" stroke-width="1.1"/>
<line x1="1505.0" y1="585.0" x2="1508.0" y2="585.0" stroke="#555" stroke-width="1.1"/>
<path d="M1486.9,637.1 C1477.7,632.9 1454.5,635.1 1454.5,647.4 C1454.5,659.7 1477.7,661.9 1486.9,657.7 Q1489.7,647.4 1486.9,637.1 Z" fill="#fff" stroke="#3a3a3a" stroke-width="1.25" />
<line x1="1486.9" y1="637.1" x2="1489.7" y2="638.5" stroke="#4a4a4a" stroke-width="0.8"/>
<line x1="1486.9" y1="657.7" x2="1489.7" y2="656.3" stroke="#4a4a4a" stroke-width="0.8"/>
<path d="M1489.7,633.4 Q1489.7,631.0 1492.7,630.9 L1499.7,630.8 Q1507.8,632.2 1507.8,637.3 L1507.8,657.5 Q1507.8,662.6 1499.7,664.0 L1492.7,663.9 Q1489.7,663.8 1489.7,661.4 Z" fill="#fff" stroke="#666" stroke-width="0.9" />
<rect x="1393.2" y="684.1" width="109.6" height="56.5" fill="#fff" stroke="#4a4a4a" stroke-width="0.8"/>
<rect x="1394.8" y="685.7" width="106.4" height="53.3" fill="none" stroke="#4a4a4a" stroke-width="0.6"/>
<path d="M1412.2,692.2 L1491.8,692.2 Q1496.8,692.2 1496.8,697.2 L1496.8,728.4 Q1496.8,733.4 1491.8,733.4 L1412.2,733.4 Q1400.2,733.4 1400.2,721.4 L1400.2,704.2 Q1400.2,692.2 1412.2,692.2 Z" fill="#fff" stroke="#4a4a4a" stroke-width="0.8" />
<rect x="1482.7" y="709.3" width="7.6" height="7.0" fill="#fff" stroke="#4a4a4a" stroke-width="0.8"/>
<line x1="1486.5" y1="712.8" x2="1502.8" y2="712.8" stroke="#4a4a4a" stroke-width="0.8"/>
<path d="M1243.3,689.1 L1262,689.1 C1281.5,689.1 1281.5,724.3 1262,724.3 L1243.3,724.3" fill="#fff" stroke="#4a4a4a" stroke-width="0.9" />
<path d="M1249,692 L1261,692 C1277,692 1277,721.4 1261,721.4 L1249,721.4 Z" fill="#fff" stroke="#4a4a4a" stroke-width="0.8" />
<circle cx="1256.5" cy="706.7" r="2" fill="#fff" stroke="#444" stroke-width="1"/>
<line x1="1246.0" y1="706.7" x2="1255.0" y2="706.7" stroke="#555" stroke-width="1.5"/>
<line x1="1244.0" y1="699.3" x2="1249.0" y2="699.3" stroke="#444" stroke-width="1.2"/>
<line x1="1246.8" y1="697.0" x2="1246.8" y2="701.6" stroke="#444" stroke-width="1.2"/>
<line x1="1244.0" y1="714.3" x2="1249.0" y2="714.3" stroke="#444" stroke-width="1.2"/>
<line x1="1246.8" y1="712.0" x2="1246.8" y2="716.6" stroke="#444" stroke-width="1.2"/>
<path d="M1362.2,695.5 C1353.0,691.3 1329.8,693.5 1329.8,706.2 C1329.8,718.9 1353.0,721.1 1362.2,716.9 Q1365.0,706.2 1362.2,695.5 Z" fill="#fff" stroke="#3a3a3a" stroke-width="1.25" />
<line x1="1362.2" y1="695.5" x2="1365.0" y2="696.9" stroke="#4a4a4a" stroke-width="0.8"/>
<line x1="1362.2" y1="716.9" x2="1365.0" y2="715.5" stroke="#4a4a4a" stroke-width="0.8"/>
<path d="M1365.0,691.7 Q1365.0,689.3 1368.0,689.2 L1375.0,689.1 Q1383.1,690.5 1383.1,695.6 L1383.1,716.8 Q1383.1,721.9 1375.0,723.3 L1368.0,723.2 Q1365.0,723.1 1365.0,720.7 Z" fill="#fff" stroke="#666" stroke-width="0.9" />
<rect x="1214.3" y="1087.5" width="46.4" height="33.8" fill="#fff" stroke="#4a4a4a" stroke-width="0.7"/>
<rect x="1221.1" y="1089.4" width="37.9" height="29.6" fill="#fff" stroke="#4a4a4a" stroke-width="0.8"/>
<rect x="1222.6" y="1090.9" width="34.9" height="26.6" fill="none" stroke="#4a4a4a" stroke-width="0.6"/>
<line x1="1222.6" y1="1090.9" x2="1257.5" y2="1117.5" stroke="#4a4a4a" stroke-width="0.6"/>
<line x1="1257.5" y1="1090.9" x2="1222.6" y2="1117.5" stroke="#4a4a4a" stroke-width="0.6"/>
<circle cx="1236.5" cy="1187.5" r="22.2" fill="#fff" stroke="#4a4a4a" stroke-width="0.8"/>
<path d="M436.1,302.1H504.0V319.7H436.1ZM504.0,305.2H517.6V319.7H504.0ZM657.7,305.2H671.0V319.7H657.7ZM671.0,302.1H749.0V319.7H671.0ZM749.0,305.2H763.8V319.7H749.0ZM977.7,305.2H992.3V319.7H977.7ZM992.3,302.1H1048.1V319.7H992.3ZM1048.1,305.2H1062.7V319.7H1048.1ZM1202.8,305.2H1215.4V319.7H1202.8ZM1215.4,302.1H1226.0V319.7H1215.4ZM1225.2,257.6H1243.1V319.7H1225.2ZM1234.3,319.7H1243.1V462.6H1234.3ZM1225.2,257.6H1292.9V275.7H1225.2ZM1292.9,261.4H1306.0V275.7H1292.9ZM1445.6,261.4H1459.4V275.7H1445.6ZM1459.4,257.6H1524.8V275.7H1459.4ZM1509.0,257.6H1524.8V905.4H1509.0ZM436.1,302.1H454.2V346.6H436.1ZM439.4,346.6H454.2V360.0H439.4ZM439.4,500.0H454.2V513.4H439.4ZM436.1,513.4H454.2V589.6H436.1ZM439.4,589.6H454.2V602.4H439.4ZM439.4,667.8H454.2V755.9H439.4ZM436.1,755.9H454.2V1067.3H436.1ZM436.1,1049.3H1064.6V1067.3H436.1ZM721.8,319.7H730.7V325.6H721.8ZM721.8,393.0H730.9V708.6H721.8ZM454.2,541.7H721.8V550.5H454.2ZM721.5,775.0H730.8V895.1H721.5ZM721.5,886.0H971.0V895.1H721.5ZM962.0,886.0H971.0V1049.3H962.0ZM962.0,903.2H1075.5V911.8H962.0ZM1041.8,842.2H1051.0V911.8H1041.8ZM806.2,895.0H815.1V934.7H806.2ZM806.2,1009.8H815.1V1049.3H806.2ZM454.2,840.2H497.5V848.6H454.2ZM560.8,840.2H651.4V848.6H560.8ZM717.0,840.2H721.8V848.6H717.0ZM638.3,840.2H647.0V968.5H638.3ZM567.3,958.5H647.0V968.5H567.3ZM611.1,968.5H620.2V1049.3H611.1ZM725.6,1067.3H743.8V1087.5H725.6ZM725.6,1275.7H743.8V1354.0H725.6ZM725.6,1345.6H1181.8V1354.0H725.6ZM1174.8,1212.0H1181.8V1354.0H1174.8ZM1175.2,1081.5H1182.6V1095.1H1175.2ZM1175.2,1211.8H1182.6V1231.6H1175.2ZM1175.2,1224.7H1279.1V1231.6H1175.2ZM1271.6,1074.1H1279.1V1231.6H1271.6ZM1144.8,1074.1H1279.1V1081.5H1144.8ZM1144.8,849.2H1152.5V1081.5H1144.8ZM1139.2,903.2H1144.8V911.8H1139.2ZM1139.2,1049.3H1144.8V1066.6H1139.2ZM1144.8,849.2H1342.2V857.3H1144.8ZM1334.8,849.2H1342.2V883.9H1334.8ZM1334.8,874.6H1375.3V883.9H1334.8ZM1444.8,874.6H1456.3V883.9H1444.8ZM1456.3,845.7H1465.1V905.4H1456.3ZM1456.3,896.1H1524.6V905.4H1456.3ZM1456.3,750.0H1465.1V775.1H1456.3ZM1234.2,530.2H1243.3V750.1H1234.2ZM1234.2,536.6H1279.5V544.7H1234.2ZM1346.9,536.6H1397.2V544.7H1346.9ZM1464.0,536.6H1509.0V544.7H1464.0ZM1384.1,536.6H1393.2V745.0H1384.1ZM1243.0,665.0H1384.1V673.6H1243.0ZM1234.2,741.4H1276.5V750.1H1234.2ZM1343.3,741.4H1509.0V750.1H1343.3ZM1503.4,681.0H1509.0V741.4H1503.4Z" fill="#343233" fill-rule="nonzero"/>
<path d="M721.8,328.4 L659.4,328.4 L659.4,331.4 L721.8,331.4 Z" fill="#fff" stroke="#4a4a4a" stroke-width="0.8" />
<path d="M659.4,328.4 A62.4,62.4 0 0 0 721.8,390.8" fill="none" stroke="#4a4a4a" stroke-width="0.8" />
<path d="M721.8,710.6 L659.4,710.6 L659.4,713.6 L721.8,713.6 Z" fill="#fff" stroke="#4a4a4a" stroke-width="0.8" />
<path d="M659.4,710.6 A62.4,62.4 0 0 0 721.8,773.0" fill="none" stroke="#4a4a4a" stroke-width="0.8" />
<path d="M1243.1,527.6 L1305.5,527.6 L1305.5,524.6 L1243.1,524.6 Z" fill="#fff" stroke="#4a4a4a" stroke-width="0.8" />
<path d="M1305.5,527.6 A62.4,62.4 0 0 0 1243.1,465.2" fill="none" stroke="#4a4a4a" stroke-width="0.8" />
<path d="M1285.8,545.3 L1285.8,606.3 L1282.8,606.3 L1282.8,545.3 Z" fill="#fff" stroke="#4a4a4a" stroke-width="0.8" />
<path d="M1285.8,606.3 A61.0,61.0 0 0 0 1346.8,545.3" fill="none" stroke="#4a4a4a" stroke-width="0.8" />
<path d="M1402.8,545.3 L1402.8,606.3 L1399.8,606.3 L1399.8,545.3 Z" fill="#fff" stroke="#4a4a4a" stroke-width="0.8" />
<path d="M1402.8,606.3 A61.0,61.0 0 0 0 1463.8,545.3" fill="none" stroke="#4a4a4a" stroke-width="0.8" />
<path d="M1277.5,750.5 L1331.7,781.7 L1333.2,779.1 L1279.0,747.9 Z" fill="#fff" stroke="#4a4a4a" stroke-width="0.8" />
<path d="M1331.7,781.7 A62.5,62.5 0 0 0 1340.0,750.5" fill="none" stroke="#4a4a4a" stroke-width="0.8" />
<path d="M1458.0,778.6 L1421.6,831.1 L1424.1,832.8 L1460.5,780.3 Z" fill="#fff" stroke="#4a4a4a" stroke-width="0.8" />
<path d="M1421.6,831.1 A63.9,63.9 0 0 0 1458.0,842.5" fill="none" stroke="#4a4a4a" stroke-width="0.8" />
<path d="M1446.0,876.9 L1398.8,824.1 L1396.6,826.1 L1443.8,878.9 Z" fill="#fff" stroke="#4a4a4a" stroke-width="0.8" />
<path d="M1398.8,824.1 A70.8,70.8 0 0 0 1375.2,876.9" fill="none" stroke="#4a4a4a" stroke-width="0.8" />
<path d="M1139.1,906.2 L1085.8,874.0 L1084.2,876.6 L1137.6,908.8 Z" fill="#fff" stroke="#4a4a4a" stroke-width="0.8" />
<path d="M1085.8,874.0 A62.3,62.3 0 0 0 1076.8,906.2" fill="none" stroke="#4a4a4a" stroke-width="0.8" />
<path d="M1136.1,1051.1 L1077.7,1016.8 L1076.2,1019.4 L1134.6,1053.7 Z" fill="#fff" stroke="#4a4a4a" stroke-width="0.8" />
<path d="M1077.7,1016.8 A67.7,67.7 0 0 0 1068.4,1051.1" fill="none" stroke="#4a4a4a" stroke-width="0.8" />
<path d="M560.8,847.5 L515.9,892.4 L518.0,894.5 L562.9,849.6 Z" fill="#fff" stroke="#4a4a4a" stroke-width="0.8" />
<path d="M515.9,892.4 A63.5,63.5 0 0 1 497.3,847.5" fill="none" stroke="#4a4a4a" stroke-width="0.8" />
<path d="M656.4,849.2 L656.4,910.6 L653.4,910.6 L653.4,849.2 Z" fill="#fff" stroke="#4a4a4a" stroke-width="0.8" />
<path d="M656.4,910.6 A61.4,61.4 0 0 0 717.8,849.2" fill="none" stroke="#4a4a4a" stroke-width="0.8" />
<path d="M570.9,956.9 L546.8,906.6 L549.5,905.3 L573.6,955.6 Z" fill="#fff" stroke="#4a4a4a" stroke-width="0.8" />
<path d="M546.8,906.6 A55.8,55.8 0 0 1 570.9,901.1" fill="none" stroke="#4a4a4a" stroke-width="0.8" />
<path d="M1178.8,1097.3 L1154.5,1148.8 L1157.2,1150.1 L1181.5,1098.6 Z" fill="#fff" stroke="#4a4a4a" stroke-width="0.8" />
<path d="M1154.5,1157.4 L1178.8,1209.0 L1181.5,1207.7 L1157.2,1156.1 Z" fill="#fff" stroke="#4a4a4a" stroke-width="0.8" />
<path d="M1154.5,1148.8 L1173.1,1153.8 L1154.5,1157.4" fill="none" stroke="#4a4a4a" stroke-width="0.8" />
<rect x="742.5" y="1081.2" width="6.1" height="201.1" fill="#fff" stroke="#4a4a4a" stroke-width="0.8"/>
<rect x="742.9" y="1081.6" width="1.8" height="200.3" fill="#c4c4c4"/>
<line x1="744.8" y1="1081.2" x2="744.8" y2="1282.3" stroke="#4a4a4a" stroke-width="0.6"/>
<text x="558.66" y="430.2" font-size="24.5" textLength="48.11" lengthAdjust="spacingAndGlyphs" fill="#1e1e20" style="font-family:&quot;Liberation Sans&quot;,sans-serif;" stroke="#fff" stroke-width="0.35" >Den</text>
<text x="533.52" y="456.0" font-size="20.5" textLength="98.72" lengthAdjust="spacingAndGlyphs" fill="#1e1e20" style="font-family:&quot;Liberation Sans&quot;,sans-serif;" stroke="#fff" stroke-width="0.2" >12'2" x 10'1"</text>
<text x="830.84" y="481.4" font-size="24.5" textLength="151.23" lengthAdjust="spacingAndGlyphs" fill="#1e1e20" style="font-family:&quot;Liberation Sans&quot;,sans-serif;" stroke="#fff" stroke-width="0.35" >Living/Dining</text>
<text x="872.94" y="513.6" font-size="24.5" textLength="67.21" lengthAdjust="spacingAndGlyphs" fill="#1e1e20" style="font-family:&quot;Liberation Sans&quot;,sans-serif;" stroke="#fff" stroke-width="0.35" >Room</text>
<text x="852.24" y="540.5" font-size="20.5" textLength="108.03" lengthAdjust="spacingAndGlyphs" fill="#1e1e20" style="font-family:&quot;Liberation Sans&quot;,sans-serif;" stroke="#fff" stroke-width="0.2" >22'9" x 16'0"</text>
<text x="1316.94" y="400.2" font-size="24.5" textLength="123.71" lengthAdjust="spacingAndGlyphs" fill="#1e1e20" style="font-family:&quot;Liberation Sans&quot;,sans-serif;" stroke="#fff" stroke-width="0.35" >Bedroom 2</text>
<text x="1327.76" y="427.4" font-size="20.5" textLength="102.98" lengthAdjust="spacingAndGlyphs" fill="#1e1e20" style="font-family:&quot;Liberation Sans&quot;,sans-serif;" stroke="#fff" stroke-width="0.2" >12'1" x 11'10"</text>
<text x="474.54" y="688.0" font-size="24.5" textLength="196.62" lengthAdjust="spacingAndGlyphs" fill="#1e1e20" style="font-family:&quot;Liberation Sans&quot;,sans-serif;" stroke="#fff" stroke-width="0.35" >Primary Bedroom</text>
<text x="526.72" y="715.6" font-size="20.5" textLength="99.23" lengthAdjust="spacingAndGlyphs" fill="#1e1e20" style="font-family:&quot;Liberation Sans&quot;,sans-serif;" stroke="#fff" stroke-width="0.2" >12'2" x 13'2"</text>
<text x="871.85" y="787.2" font-size="24.5" textLength="87.82" lengthAdjust="spacingAndGlyphs" fill="#1e1e20" style="font-family:&quot;Liberation Sans&quot;,sans-serif;" stroke="#fff" stroke-width="0.35" >Kitchen</text>
<text x="869.07" y="814.0" font-size="20.5" textLength="94.19" lengthAdjust="spacingAndGlyphs" fill="#1e1e20" style="font-family:&quot;Liberation Sans&quot;,sans-serif;" stroke="#fff" stroke-width="0.2" >14'7" x 9'6"</text>
<text x="874.83" y="1202.5" font-size="24.5" textLength="79.48" lengthAdjust="spacingAndGlyphs" fill="#1e1e20" style="font-family:&quot;Liberation Sans&quot;,sans-serif;" stroke="#fff" stroke-width="0.35" >Garage</text>
<text x="863.90" y="1230.0" font-size="20.5" textLength="101.05" lengthAdjust="spacingAndGlyphs" fill="#1e1e20" style="font-family:&quot;Liberation Sans&quot;,sans-serif;" stroke="#fff" stroke-width="0.2" >19'7" x 12'8"</text>
<text x="1049.72" y="981.7" font-size="24.5" textLength="83.28" lengthAdjust="spacingAndGlyphs" fill="#1e1e20" style="font-family:&quot;Liberation Sans&quot;,sans-serif;" stroke="#fff" stroke-width="0.35" >Laundry</text>
<text x="1201.79" y="1142.8" font-size="24.5" textLength="63.17" lengthAdjust="spacingAndGlyphs" fill="#1e1e20" style="font-family:&quot;Liberation Sans&quot;,sans-serif;" stroke="#fff" stroke-width="0.35" >Mech</text>
<text x="489.98" y="989.7" font-size="24.5" textLength="85.26" lengthAdjust="spacingAndGlyphs" fill="#1e1e20" style="font-family:&quot;Liberation Sans&quot;,sans-serif;" stroke="#fff" stroke-width="0.35" >Primary</text>
<text x="508.48" y="1021.9" font-size="24.5" textLength="50.95" lengthAdjust="spacingAndGlyphs" fill="#1e1e20" style="font-family:&quot;Liberation Sans&quot;,sans-serif;" stroke="#fff" stroke-width="0.35" >Bath</text>
<text x="1396.81" y="633.0" font-size="24.5" textLength="70.41" lengthAdjust="spacingAndGlyphs" fill="#1e1e20" style="font-family:&quot;Liberation Sans&quot;,sans-serif;" stroke="#fff" stroke-width="0.35" >Bath 2</text>
<text x="1294.00" y="713.3" font-size="24.5" textLength="27.26" lengthAdjust="spacingAndGlyphs" fill="#1e1e20" style="font-family:&quot;Liberation Sans&quot;,sans-serif;" stroke="#fff" stroke-width="0.35" >PR</text>
<text x="1301.60" y="624.7" font-size="16" textLength="31.77" lengthAdjust="spacingAndGlyphs" fill="#1e1e20" style="font-family:&quot;Liberation Sans&quot;,sans-serif;" >WIC</text>
<text x="710.70" y="983.0" font-size="16" textLength="32.78" lengthAdjust="spacingAndGlyphs" fill="#1e1e20" style="font-family:&quot;Liberation Sans&quot;,sans-serif;" >WIC</text>
<text x="861.40" y="983.1" font-size="16" textLength="32.78" lengthAdjust="spacingAndGlyphs" fill="#1e1e20" style="font-family:&quot;Liberation Sans&quot;,sans-serif;" >WIC</text>
<text x="739.23" y="866.3" font-size="16" textLength="44.87" lengthAdjust="spacingAndGlyphs" fill="#1e1e20" style="font-family:&quot;Liberation Sans&quot;,sans-serif;" >Pantry</text>
<text x="996.48" y="876.4" font-size="16" textLength="23.01" lengthAdjust="spacingAndGlyphs" fill="#1e1e20" style="font-family:&quot;Liberation Sans&quot;,sans-serif;" >Ref</text>
<text x="959.54" y="737.5" font-size="16" textLength="28.21" lengthAdjust="spacingAndGlyphs" fill="#1e1e20" style="font-family:&quot;Liberation Sans&quot;,sans-serif;" >DW</text>
<text x="456.76" y="876.0" font-size="16" textLength="40.67" lengthAdjust="spacingAndGlyphs" fill="#1e1e20" style="font-family:&quot;Liberation Sans&quot;,sans-serif;" >Linen</text>
<text x="584.60" y="866.3" font-size="16" textLength="36.99" lengthAdjust="spacingAndGlyphs" fill="#1e1e20" style="font-family:&quot;Liberation Sans&quot;,sans-serif;" >SEAT</text>
<text x="1439.70" y="835.7" font-size="16" textLength="43.86" lengthAdjust="spacingAndGlyphs" fill="#1e1e20" style="font-family:&quot;Liberation Sans&quot;,sans-serif;" >Closet</text>
<text x="992.80" y="951.5" font-size="16" textLength="31.38" lengthAdjust="spacingAndGlyphs" fill="#1e1e20" style="font-family:&quot;Liberation Sans&quot;,sans-serif;" >OPT</text>
<text x="1003.81" y="969.0" font-size="16" textLength="12.59" lengthAdjust="spacingAndGlyphs" fill="#1e1e20" style="font-family:&quot;Liberation Sans&quot;,sans-serif;" >D</text>
<text x="992.80" y="1007.8" font-size="16" textLength="31.38" lengthAdjust="spacingAndGlyphs" fill="#1e1e20" style="font-family:&quot;Liberation Sans&quot;,sans-serif;" >OPT</text>
<text x="1004.30" y="1024.5" font-size="16" textLength="14.25" lengthAdjust="spacingAndGlyphs" fill="#1e1e20" style="font-family:&quot;Liberation Sans&quot;,sans-serif;" >W</text>
<text x="1223.60" y="1192.9" font-size="16" textLength="27.37" lengthAdjust="spacingAndGlyphs" fill="#1e1e20" style="font-family:&quot;Liberation Sans&quot;,sans-serif;" >WH</text>
</svg>
</body></html>
